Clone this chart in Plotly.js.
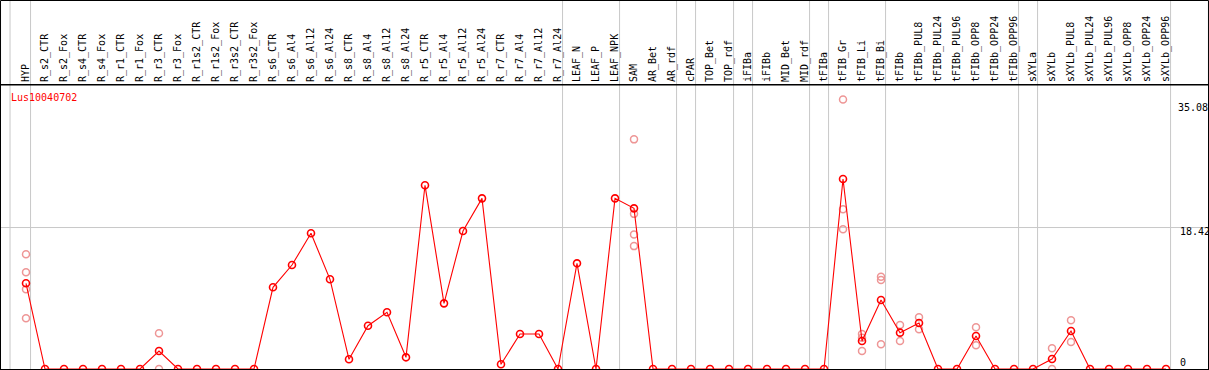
<!DOCTYPE html>
<html>
<head>
<meta charset="utf-8">
<script src="https://cdn.plot.ly/plotly-3.0.1.min.js"></script>
<style>
html,body{margin:0;padding:0;background:#fff;}
#chart{width:1209px;height:370px;}
</style>
</head>
<body>
<div id="chart"></div>
<script>
// ---- data ----
var categories = ["HYP","R_s2_CTR","R_s2_Fox","R_s4_CTR","R_s4_Fox","R_r1_CTR","R_r1_Fox","R_r3_CTR","R_r3_Fox",
  "R_r1s2_CTR","R_r1s2_Fox","R_r3s2_CTR","R_r3s2_Fox","R_s6_CTR","R_s6_Al4","R_s6_Al12","R_s6_Al24",
  "R_s8_CTR","R_s8_Al4","R_s8_Al12","R_s8_Al24","R_r5_CTR","R_r5_Al4","R_r5_Al12","R_r5_Al24",
  "R_r7_CTR","R_r7_Al4","R_r7_Al12","R_r7_Al24","LEAF_N","LEAF_P","LEAF_NPK","SAM","AR_Bet","AR_rdf",
  "cPAR","TOP_Bet","TOP_rdf","iFIBa","iFIBb","MID_Bet","MID_rdf","tFIBa","tFIB_Gr","tFIB_Li","tFIB_Bi",
  "tFIBb","tFIBb_PUL8","tFIBb_PUL24","tFIBb_PUL96","tFIBb_OPP8","tFIBb_OPP24","tFIBb_OPP96",
  "sXYLa","sXYLb","sXYLb_PUL8","sXYLb_PUL24","sXYLb_PUL96","sXYLb_OPP8","sXYLb_OPP24","sXYLb_OPP96"];

var meanValues = [11.16, 0,0,0,0,0,0, 2.34, 0,0,0,0,0,
  10.64, 13.54, 17.67, 11.68, 1.26, 5.64, 7.38, 1.52,
  23.92, 8.55, 17.97, 22.22, 0.61, 4.56, 4.56, 0,
  13.76, 0, 22.22, 20.92,
  0,0,0,0,0,0,0,0,0,0,
  24.74, 3.65, 8.98, 4.73, 5.99, 0, 0, 4.30,
  0, 0, 0, 1.30, 4.95, 0,0,0,0,0];

var replicateCategories = ["HYP","R_r3_CTR","SAM","tFIB_Gr","tFIB_Li","tFIB_Bi","tFIBb","tFIBb_PUL8","tFIBb_OPP8","sXYLb","sXYLb_PUL8"];
var replicateValues = [
  [14.93, 12.59, 10.38, 6.60],
  [4.65, 0],
  [29.9, 20.2, 17.5, 16.0],
  [35.08, 20.8, 18.19],
  [4.56, 4.08, 2.34],
  [12.02, 11.59, 3.21],
  [5.73, 3.65],
  [6.73, 5.17],
  [5.43, 3.09],
  [2.70, 0],
  [6.34, 3.52]
];

// group separators drawn just after these categories
var separatorAfter = ["HYP","R_r7_Al24","LEAF_NPK","AR_rdf","cPAR","TOP_rdf","iFIBa","MID_rdf","tFIBa","tFIB_Bi","tFIBb_OPP96","sXYLa","sXYLb_OPP96"];
var geneName = "Lus10040702";
var yLabels = [35.08, 18.42, 0];

// ---- build ----
var repX = [], repY = [];
replicateCategories.forEach(function(c, k){
  replicateValues[k].forEach(function(v){ repX.push(c); repY.push(v); });
});

var FONT = "DejaVu Sans Mono, monospace";

var traces = [
  {type:"scatter", mode:"markers", x:repX, y:repY,
   marker:{symbol:"circle-open", size:7, color:"rgb(238,150,150)", line:{width:1.5, color:"rgb(238,150,150)"}},
   hoverinfo:"skip"},
  {type:"scatter", mode:"lines+markers", x:categories, y:meanValues,
   line:{color:"#ff0000", width:1.1},
   marker:{symbol:"circle-open", size:7, color:"#ff0000", line:{width:1.6, color:"#ff0000"}},
   hoverinfo:"skip"}
];

var shapes = [];
var topPaper = 1 + 84.5/284;
function addSep(pos){
  shapes.push({type:"line", xref:"x", yref:"paper", x0:pos, x1:pos, y0:0, y1:topPaper,
    line:{color:"#c8c8c8", width:1}, layer:"below"});
}
addSep(-0.84);
separatorAfter.forEach(function(c){ addSep(categories.indexOf(c) + 0.24); });
// horizontal grid line at the middle label value
shapes.push({type:"line", xref:"paper", yref:"y", x0:0, x1:1, y0:yLabels[1], y1:yLabels[1],
  line:{color:"#c8c8c8", width:1}, layer:"below"});
// frame around the label area
shapes.push({type:"rect", xref:"paper", yref:"paper", x0:-0.0004, x1:1.0004, y0:1, y1:topPaper,
  line:{color:"#000", width:1}, layer:"above"});

var annotations = [
  {xref:"paper", yref:"paper", x:8/1207, y:1, xanchor:"left", yanchor:"middle", yshift:-12,
   text:geneName, showarrow:false, font:{family:FONT, size:10, color:"#ff0000"}}
];
var yShifts = [-8, -4, 7];
var yLabelX = [1176, 1178, 1178];
yLabels.forEach(function(v, k){
  annotations.push({xref:"paper", yref:"y", x:(yLabelX[k]-1)/1207, y:v, xanchor:"left", yanchor:"middle",
    yshift:yShifts[k], text:String(v), showarrow:false,
    font:{family:FONT, size:10, color:"#000"}});
});

var layout = {
  width:1209, height:370,
  margin:{l:1, r:1, t:85, b:1, pad:0},
  paper_bgcolor:"#fff", plot_bgcolor:"#fff",
  showlegend:false,
  xaxis:{type:"category", categoryorder:"array", categoryarray:categories,
    range:[-1.3158, 62.21], side:"top", tickangle:-90,
    tickmode:"array", tickvals:categories, ticktext:categories,
    ticks:"", showgrid:false, zeroline:false,
    showline:true, mirror:true, linecolor:"#000", linewidth:1,
    tickfont:{family:FONT, size:10, color:"#000"}, fixedrange:true},
  yaxis:{range:[0, 36.98], showticklabels:false, ticks:"", showgrid:false, zeroline:false,
    showline:true, mirror:true, linecolor:"#000", linewidth:1, fixedrange:true},
  shapes:shapes,
  annotations:annotations
};

Plotly.newPlot("chart", traces, layout, {displayModeBar:false, staticPlot:true});
</script>
</body>
</html>
